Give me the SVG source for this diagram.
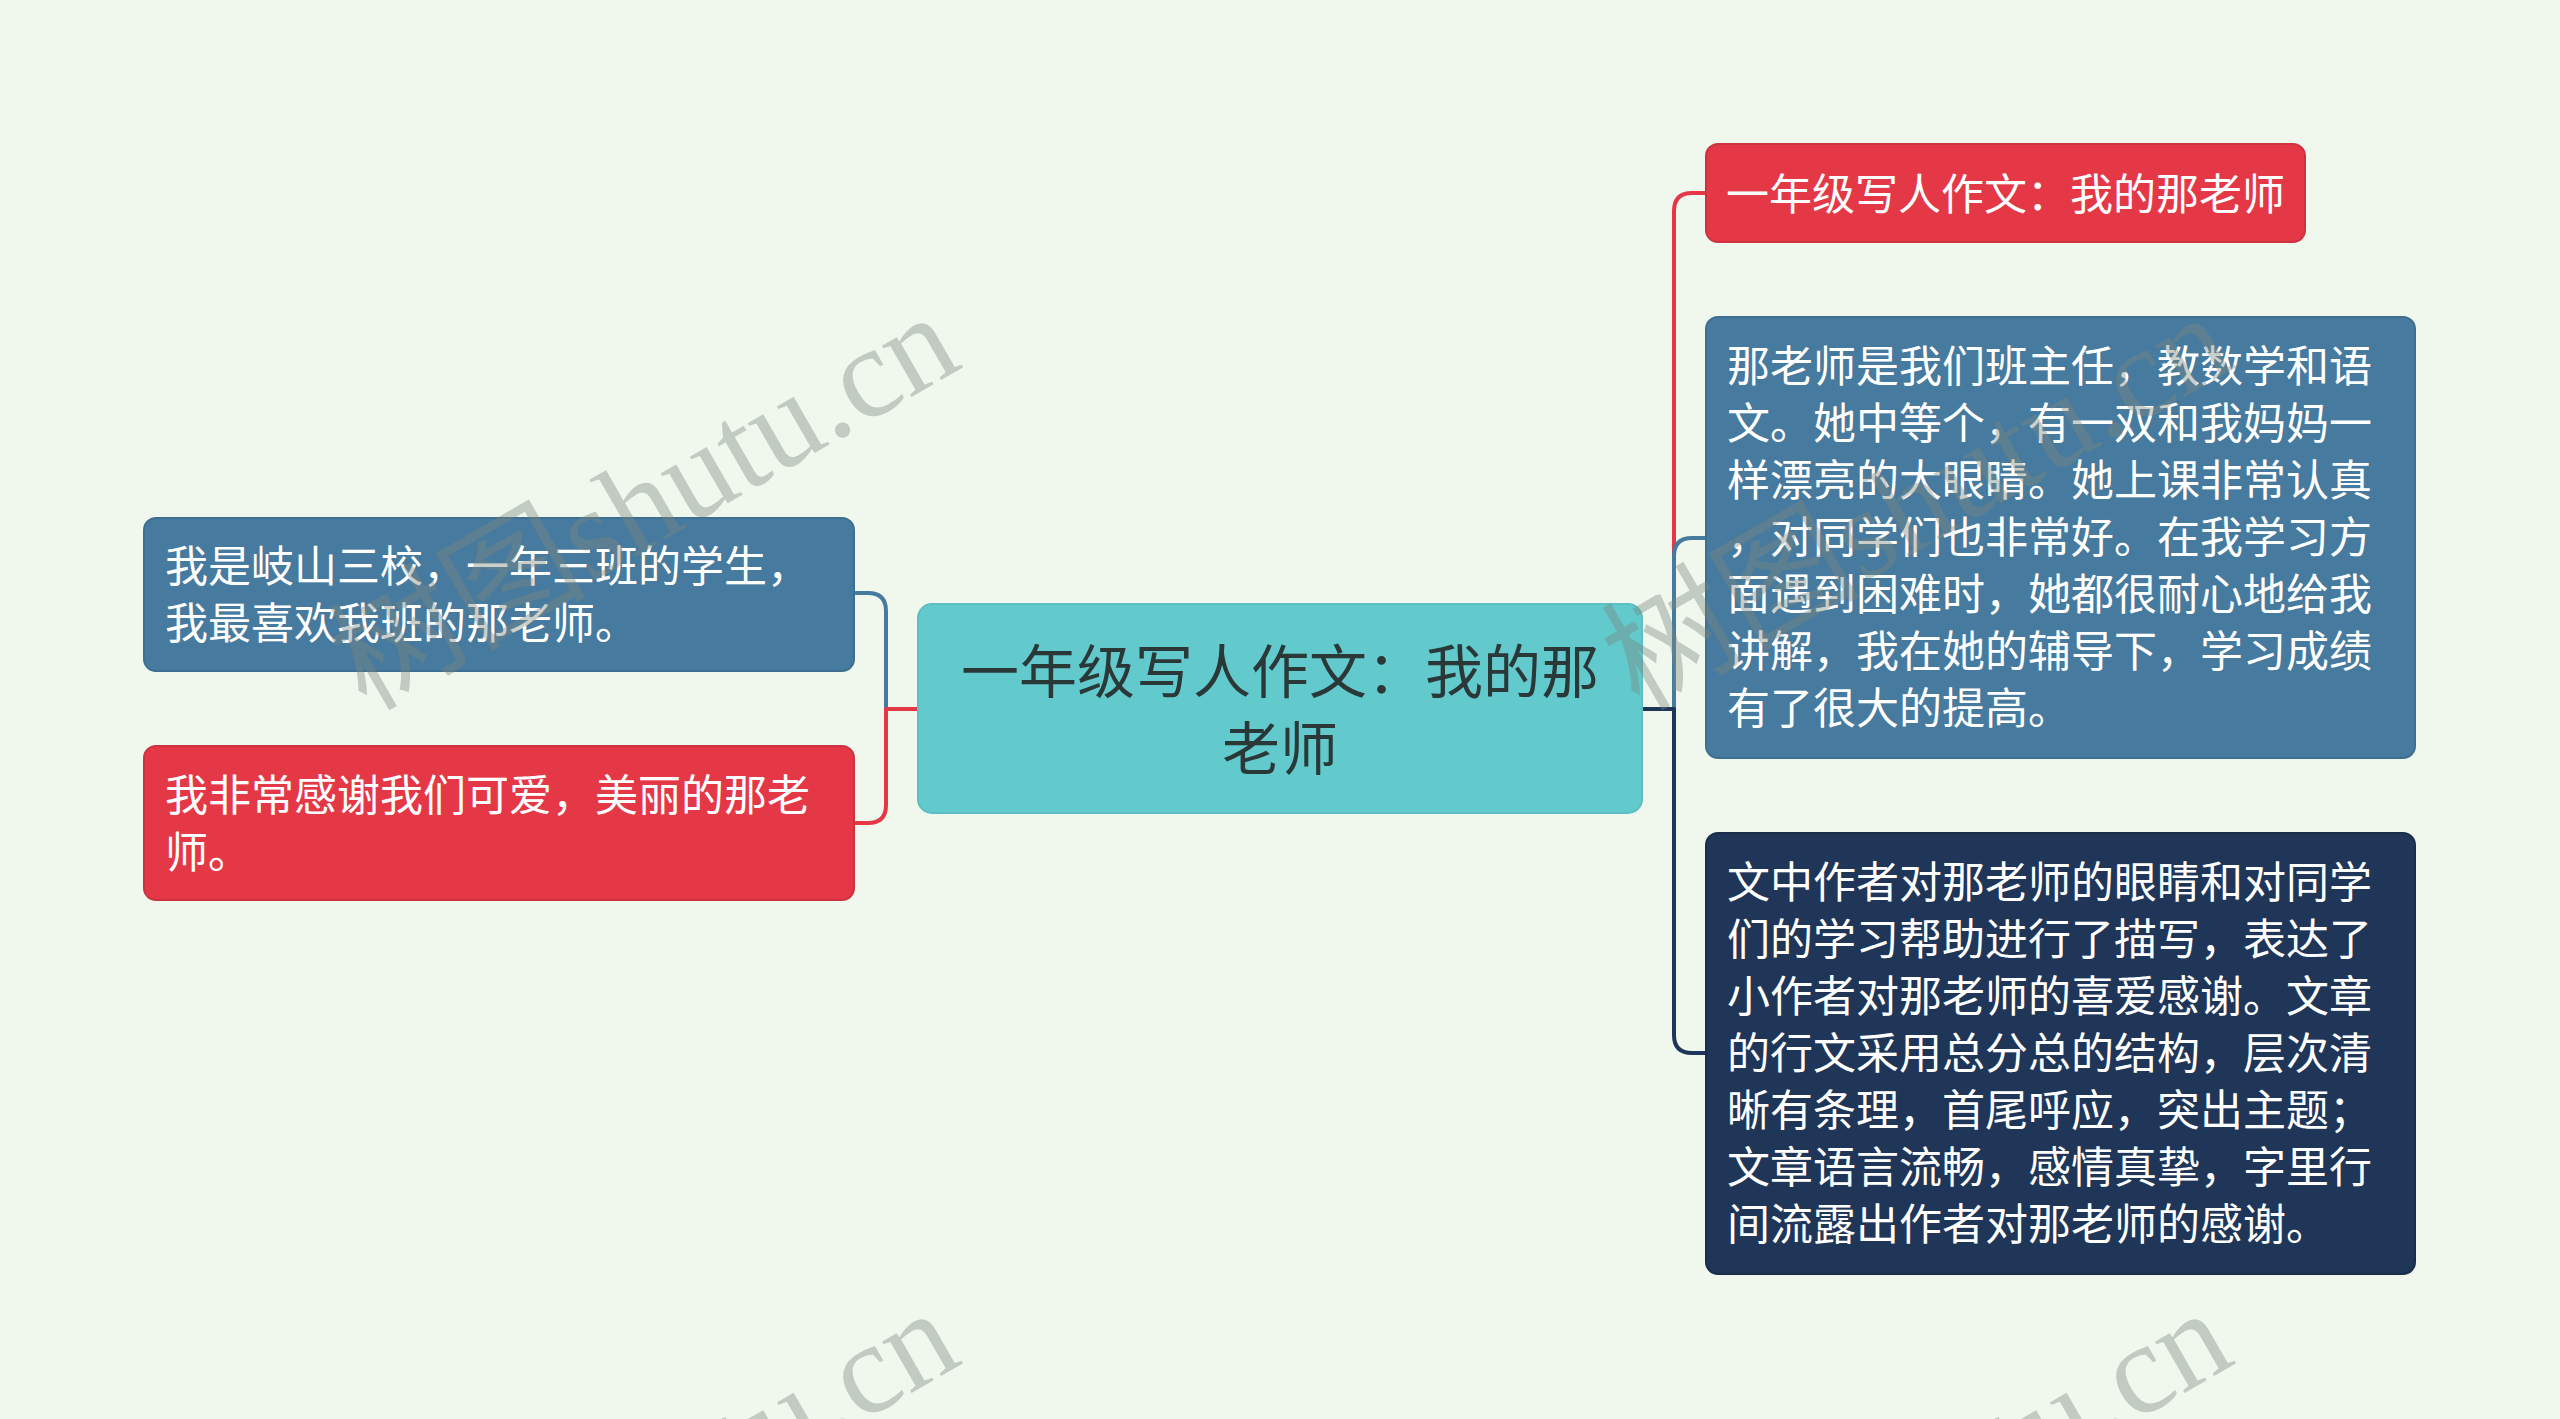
<svg xmlns="http://www.w3.org/2000/svg" width="2560" height="1419" viewBox="0 0 2560 1419">
<style>
.t{font-family:"Noto Sans CJK SC","Noto Sans",sans-serif;fill:#ffffff;dominant-baseline:central}
.b{font-size:43px}
.c{fill:none;stroke-width:4;stroke-linecap:round;stroke-linejoin:round}
.wm{font-family:"Liberation Serif","Noto Sans CJK SC",serif;font-size:129px;fill:#7c887d;fill-opacity:0.4}
</style>
<rect width="2560" height="1419" fill="#F0F8EE"/>
<g id="connectors">
<path class="c" stroke="#467A9E" d="M918 709 H886 V611 Q886 593 868 593 H856"/>
<path class="c" stroke="#E53847" d="M918 709 H886 V805 Q886 823 868 823 H856"/>
<path class="c" stroke="#E53847" d="M1642 709 H1674 V211 Q1674 193 1692 193 H1706"/>
<path class="c" stroke="#467A9E" d="M1642 709 H1674 V556 Q1674 538 1692 538 H1706"/>
<path class="c" stroke="#1F3658" d="M1642 709 H1674 V1035 Q1674 1053 1692 1053 H1706"/>
</g>
<g id="root">
<rect x="918" y="604" width="724" height="209" rx="14" fill="#62C9CD" stroke="#5bbfc3" stroke-width="2"/>
<text class="t" style="font-size:58px;fill:#2A3838" text-anchor="middle" x="1280" y="668">一年级写人作文：我的那</text>
<text class="t" style="font-size:58px;fill:#2A3838" text-anchor="middle" x="1280" y="745">老师</text>
</g>
<g id="node-title">
<rect x="1706" y="144" width="599" height="98" rx="12" fill="#E53847" stroke="#cc3240" stroke-width="2"/>
<text class="t" style="font-size:43px" x="1726" y="191">一年级写人作文：我的那老师</text>
</g>
<g id="node-desc">
<rect x="1706" y="317" width="709" height="441" rx="12" fill="#467A9E" stroke="#3e6e90" stroke-width="2"/>
<text class="t b" x="1727" y="363">那老师是我们班主任，教数学和语</text>
<text class="t b" x="1727" y="420">文。她中等个，有一双和我妈妈一</text>
<text class="t b" x="1727" y="477">样漂亮的大眼睛。她上课非常认真</text>
<text class="t b" x="1727" y="534">，对同学们也非常好。在我学习方</text>
<text class="t b" x="1727" y="591">面遇到困难时，她都很耐心地给我</text>
<text class="t b" x="1727" y="648">讲解，我在她的辅导下，学习成绩</text>
<text class="t b" x="1727" y="705">有了很大的提高。</text>
</g>
<g id="node-comment">
<rect x="1706" y="833" width="709" height="441" rx="12" fill="#1F3658" stroke="#1a2e4c" stroke-width="2"/>
<text class="t b" x="1727" y="879">文中作者对那老师的眼睛和对同学</text>
<text class="t b" x="1727" y="936">们的学习帮助进行了描写，表达了</text>
<text class="t b" x="1727" y="993">小作者对那老师的喜爱感谢。文章</text>
<text class="t b" x="1727" y="1050">的行文采用总分总的结构，层次清</text>
<text class="t b" x="1727" y="1107">晰有条理，首尾呼应，突出主题；</text>
<text class="t b" x="1727" y="1164">文章语言流畅，感情真挚，字里行</text>
<text class="t b" x="1727" y="1221">间流露出作者对那老师的感谢。</text>
</g>
<g id="node-intro">
<rect x="144" y="518" width="710" height="153" rx="12" fill="#467A9E" stroke="#3e6e90" stroke-width="2"/>
<text class="t b" x="165" y="563">我是岐山三校，一年三班的学生，</text>
<text class="t b" x="165" y="620">我最喜欢我班的那老师。</text>
</g>
<g id="node-thanks">
<rect x="144" y="746" width="710" height="154" rx="12" fill="#E53847" stroke="#cc3240" stroke-width="2"/>
<text class="t b" x="165" y="792">我非常感谢我们可爱，美丽的那老</text>
<text class="t b" x="165" y="849">师。</text>
</g>
<g id="watermark">
<text class="wm" x="366" y="712" transform="rotate(-30 366 712)">树图shutu.cn</text>
<text class="wm" x="1639" y="712" transform="rotate(-30 1639 712)">树图shutu.cn</text>
<text class="wm" x="366" y="1708" transform="rotate(-30 366 1708)">树图shutu.cn</text>
<text class="wm" x="1639" y="1708" transform="rotate(-30 1639 1708)">树图shutu.cn</text>
</g>
</svg>
